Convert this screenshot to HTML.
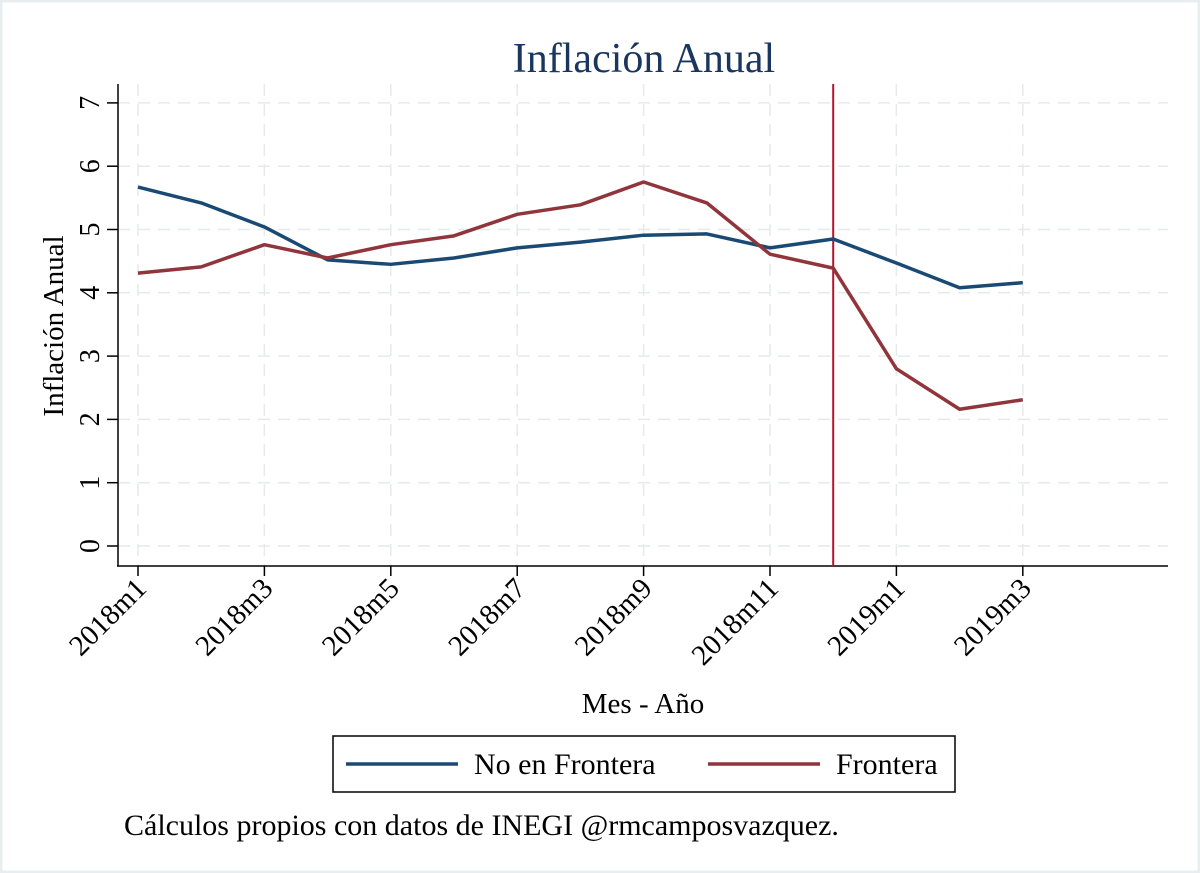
<!DOCTYPE html>
<html><head><meta charset="utf-8"><style>
body{margin:0;background:#fff}
svg{display:block;font-family:"Liberation Serif",serif}
</style></head><body>
<svg width="1200" height="873" viewBox="0 0 1200 873">
<rect x="1" y="1" width="1198" height="871" fill="#fff" stroke="#e8eef0" stroke-width="3"/>
<text x="644" y="72" text-anchor="middle" font-size="42" fill="#1a355e">Inflación Anual</text>
<g id="grid"></g>
<g id="axes"></g>
<g id="series"></g>
<text transform="translate(63,326) rotate(-90)" text-anchor="middle" font-size="29">Inflación Anual</text>
<text x="643" y="713" text-anchor="middle" font-size="29">Mes - Año</text>
<g>
<rect x="333" y="736" width="622" height="56" fill="#fff" stroke="#000" stroke-width="1.5"/>
<line x1="346" y1="764" x2="458" y2="764" stroke="#1a4a74" stroke-width="3.5"/>
<text x="474" y="774" font-size="30">No en Frontera</text>
<line x1="708" y1="764" x2="820" y2="764" stroke="#90353b" stroke-width="3.5"/>
<text x="836" y="774" font-size="30">Frontera</text>
</g>
<text x="124" y="835" font-size="30">Cálculos propios con datos de INEGI @rmcamposvazquez.</text>
</svg>
<script>
const months=["2018m1","2018m2","2018m3","2018m4","2018m5","2018m6","2018m7","2018m8","2018m9","2018m10","2018m11","2018m12","2019m1","2019m2","2019m3"];
const noFrontera=[5.67,5.42,5.04,4.52,4.45,4.55,4.71,4.80,4.91,4.93,4.71,4.85,4.47,4.08,4.16];
const frontera=[4.31,4.41,4.76,4.55,4.76,4.90,5.24,5.39,5.75,5.42,4.61,4.39,2.80,2.16,2.31];
const yTicks=[0,1,2,3,4,5,6,7];
const xTickLabels=["2018m1","2018m3","2018m5","2018m7","2018m9","2018m11","2019m1","2019m3"];
const eventMonth="2018m12";
const NS="http://www.w3.org/2000/svg";
const X=i=>138+i*63.2, Y=v=>546-v*63.3;
function mk(tag,attrs,parent){const e=document.createElementNS(NS,tag);for(const k in attrs)e.setAttribute(k,attrs[k]);document.getElementById(parent).appendChild(e);return e;}
yTicks.forEach(t=>{
 const g=mk('line',{x1:118,x2:1168,y1:Y(t),y2:Y(t),stroke:'#e6eaec','stroke-width':1.5,'stroke-dasharray':'12 8'},'grid');
 
 
 const tk=mk('line',{x1:107,x2:118,y1:Y(t),y2:Y(t),stroke:'#000','stroke-width':1.5},'axes');
 
 
 const tx=mk('text',{transform:`translate(99,${Y(t)}) rotate(-90)`,'text-anchor':'middle','font-size':28},'axes');
 tx.textContent=t;
 
 
});
xTickLabels.forEach(l=>{
 const i=months.indexOf(l),x=X(i);
 const g=mk('line',{x1:x,x2:x,y1:84,y2:566,stroke:'#e6eaec','stroke-width':1.5,'stroke-dasharray':'12 8'},'grid');
 
 
 const tk=mk('line',{x1:x,x2:x,y1:566,y2:576,stroke:'#000','stroke-width':1.5},'axes');
 
 
 const tx=mk('text',{transform:`translate(${x+10},${590}) rotate(-45)`,'text-anchor':'end','font-size':29},'axes');
 tx.textContent=l;
 
 
});
const ya=mk('line',{x1:118,x2:118,y1:84,y2:566,stroke:'#000','stroke-width':1.5},'axes');


const xa=mk('line',{x1:117,x2:1168,y1:566,y2:566,stroke:'#000','stroke-width':1.5},'axes');


const ex=X(months.indexOf(eventMonth));
const ev=mk('line',{x1:ex,x2:ex,y1:84,y2:566,stroke:'#b3132e','stroke-width':2},'series');


const p1=mk('polyline',{points:noFrontera.map((v,i)=>X(i)+','+Y(v)).join(' '),fill:'none',stroke:'#1a4a74','stroke-width':3.5,'stroke-linejoin':'round'},'series');


const p2=mk('polyline',{points:frontera.map((v,i)=>X(i)+','+Y(v)).join(' '),fill:'none',stroke:'#90353b','stroke-width':3.5,'stroke-linejoin':'round'},'series');


</script>
</body></html>
